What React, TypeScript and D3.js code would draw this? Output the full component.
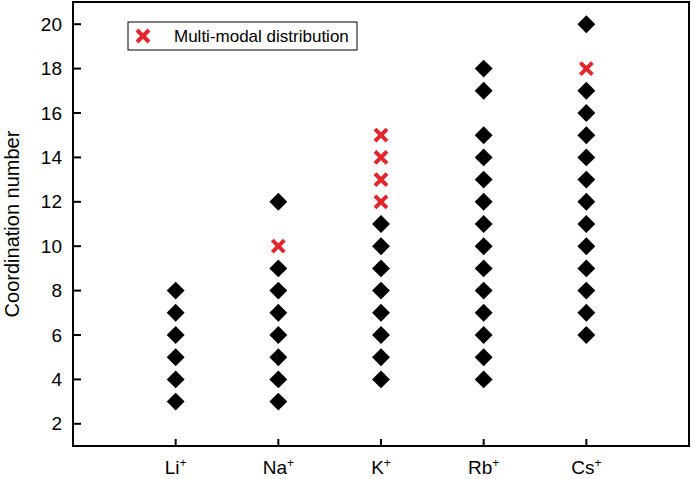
import React from "react";
import * as d3 from "d3";

const cations = ["Li", "Na", "K", "Rb", "Cs"];
const singleModal: number[][] = [
  [3, 4, 5, 6, 7, 8],
  [3, 4, 5, 6, 7, 8, 9, 12],
  [4, 5, 6, 7, 8, 9, 10, 11],
  [4, 5, 6, 7, 8, 9, 10, 11, 12, 13, 14, 15, 17, 18],
  [6, 7, 8, 9, 10, 11, 12, 13, 14, 15, 16, 17, 20],
];
const multiModal: number[][] = [[], [10], [12, 13, 14, 15], [], [18]];
const yTicks = [2, 4, 6, 8, 10, 12, 14, 16, 18, 20];
const legendLabel = "Multi-modal distribution";
const yLabel = "Coordination number";

const W = 693;
const H = 479;
const left = 73;
const right = 689;
const top = 2;
const bottom = 446;
const FONT = "Arial, 'Liberation Sans', Helvetica, sans-serif";

export default function App() {
  const x = d3.scaleLinear().domain([0, cations.length + 1]).range([left, right]);
  const y = d3.scaleLinear().domain([1, 21]).range([bottom, top]);
  const diamond = d3.symbol(d3.symbolSquare, 160)() as string;
  const red = "#e3262d";
  const xh = 6;

  const Cross = ({ cx, cy }: { cx: number; cy: number }) => (
    <g transform={`translate(${cx},${cy})`} stroke={red} strokeWidth={4}>
      <line x1={-xh} y1={-xh} x2={xh} y2={xh} />
      <line x1={-xh} y1={xh} x2={xh} y2={-xh} />
    </g>
  );

  return (
    <svg
      width={W}
      height={H}
      style={{ position: "absolute", left: 0, top: 0, background: "#fff" }}
      fontFamily={FONT}
    >
      <rect x={0} y={0} width={W} height={H} fill="#fff" />
      {/* y ticks */}
      {yTicks.map((t) => (
        <g key={t}>
          <line x1={left} x2={left + 8} y1={y(t)} y2={y(t)} stroke="#000" strokeWidth={2} />
          <text x={left - 11} y={y(t)} dy="0.35em" textAnchor="end" fontSize={19}>
            {t}
          </text>
        </g>
      ))}
      {/* x ticks */}
      {cations.map((c, i) => (
        <g key={c}>
          <line x1={x(i + 1)} x2={x(i + 1)} y1={bottom} y2={bottom - 7} stroke="#000" strokeWidth={2} />
          <text x={x(i + 1)} y={474} textAnchor="middle" fontSize={19}>
            {c}
            <tspan fontSize={12} dy={-7}>+</tspan>
          </text>
        </g>
      ))}
      <text
        transform={`translate(19,${(top + bottom) / 2}) rotate(-90)`}
        textAnchor="middle"
        fontSize={20}
      >
        {yLabel}
      </text>
      {/* markers */}
      {singleModal.map((vals, i) =>
        vals.map((v) => (
          <path
            key={`s${i}-${v}`}
            d={diamond}
            transform={`translate(${x(i + 1)},${y(v)}) rotate(45)`}
            fill="#000"
          />
        ))
      )}
      {multiModal.map((vals, i) =>
        vals.map((v) => <Cross key={`m${i}-${v}`} cx={x(i + 1)} cy={y(v)} />)
      )}
      {/* legend */}
      <rect x={128} y={22} width={229} height={28} fill="#fff" stroke="#000" strokeWidth={1} />
      <Cross cx={143} cy={36} />
      <text x={174} y={36} dy="0.35em" fontSize={17}>
        {legendLabel}
      </text>
      {/* frame */}
      <rect
        x={left}
        y={top}
        width={right - left}
        height={bottom - top}
        fill="none"
        stroke="#000"
        strokeWidth={2}
      />
    </svg>
  );
}
